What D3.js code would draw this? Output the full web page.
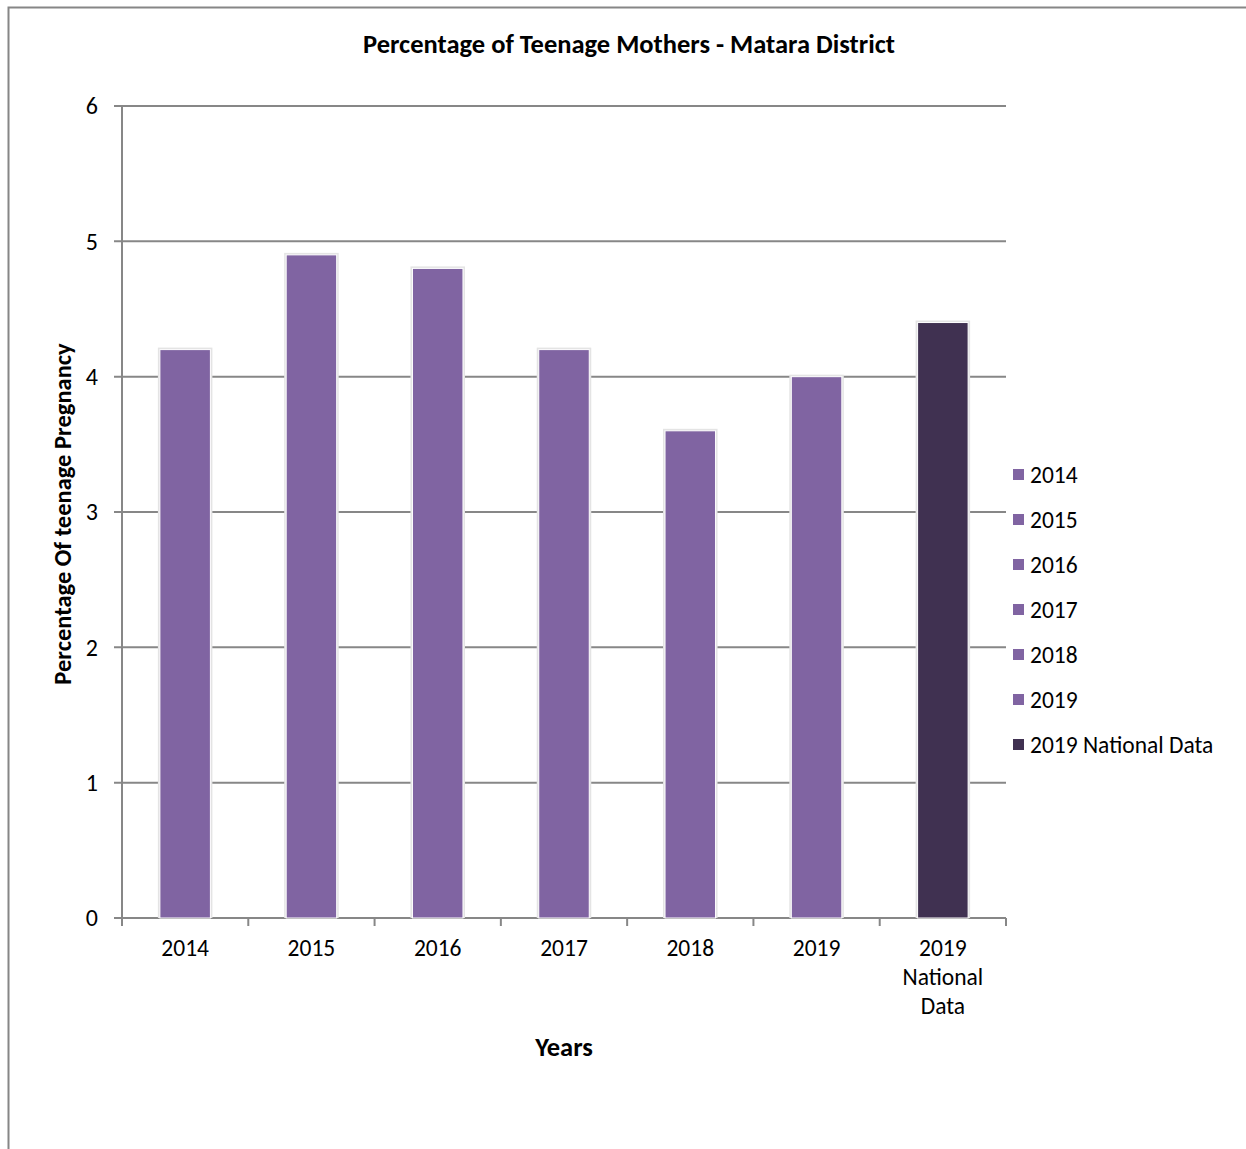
<!DOCTYPE html>
<html>
<head>
<meta charset="utf-8">
<script src="https://cdn.jsdelivr.net/npm/d3@7"></script>
<style>
  body { margin: 0; background: #fff; }
  text { font-family: Carlito, Calibri, Lato, "Open Sans", sans-serif; fill: #000; }
</style>
</head>
<body>
<svg id="chart" width="1246" height="1149"></svg>
<script>
// values
const categories = ["2014", "2015", "2016", "2017", "2018", "2019", "2019 National Data"]
const values = [4.2, 4.9, 4.8, 4.2, 3.6, 4.0, 4.4]
const barColors = ["#8064A2", "#8064A2", "#8064A2", "#8064A2", "#8064A2", "#8064A2", "#403151"]
const yTicks = [0, 1, 2, 3, 4, 5, 6]

const svg = d3.select("#chart")
const plotLeft = 122, plotRight = 1006, plotTop = 106, plotBottom = 918

// outer frame
svg.append("rect")
  .attr("x", 8.5).attr("y", 7.5)
  .attr("width", 1250).attr("height", 1160)
  .attr("fill", "none")
  .attr("stroke", "#868686")
  .attr("stroke-width", 2)

const x = d3.scaleBand().domain(categories).range([plotLeft, plotRight]).paddingInner(0.6).paddingOuter(0.3)
const y = d3.scaleLinear().domain([0, 6]).range([plotBottom, plotTop])

// gridlines
svg.append("g")
  .selectAll("line")
  .data(yTicks)
  .join("line")
  .attr("x1", plotLeft - 8).attr("x2", plotRight)
  .attr("y1", d => y(d)).attr("y2", d => y(d))
  .attr("stroke", "#878787")
  .attr("stroke-width", 2)

// y axis line
svg.append("line")
  .attr("x1", plotLeft).attr("x2", plotLeft)
  .attr("y1", plotTop).attr("y2", plotBottom + 8)
  .attr("stroke", "#878787").attr("stroke-width", 2)

// y labels
svg.append("g")
  .selectAll("text")
  .data(yTicks)
  .join("text")
  .attr("x", 98)
  .attr("y", d => y(d))
  .attr("dy", "0.35em")
  .attr("text-anchor", "end")
  .style("font-size", "24px")
  .text(d => d)

// x ticks at category boundaries
const boundaries = d3.range(categories.length + 1).map(i => plotLeft + i * (plotRight - plotLeft) / categories.length)
svg.append("g")
  .selectAll("line")
  .data(boundaries)
  .join("line")
  .attr("x1", d => d).attr("x2", d => d)
  .attr("y1", plotBottom).attr("y2", plotBottom + 8)
  .attr("stroke", "#878787").attr("stroke-width", 2)

// bar shadows
const bars = svg.append("g")
bars.selectAll("rect.shadow")
  .data(values)
  .join("rect")
  .classed("shadow", true)
  .attr("x", (d, i) => x(categories[i]) - 2)
  .attr("y", d => y(d) - 2)
  .attr("width", x.bandwidth() + 4)
  .attr("height", d => plotBottom - y(d) + 2)
  .attr("fill", "#e4e4e4")

bars.selectAll("rect.bar")
  .data(values)
  .join("rect")
  .classed("bar", true)
  .attr("x", (d, i) => x(categories[i]))
  .attr("y", d => y(d))
  .attr("width", x.bandwidth())
  .attr("height", d => plotBottom - y(d))
  .attr("fill", (d, i) => barColors[i])
  .attr("stroke", "#fff")
  .attr("stroke-width", 1)

// x labels
const xLabels = svg.append("g")
categories.forEach(c => {
  const words = c === "2019 National Data" ? ["2019", "National", "Data"] : [c]
  const t = xLabels.append("text")
    .attr("x", x(c) + x.bandwidth() / 2)
    .attr("y", 956)
    .attr("text-anchor", "middle")
    .style("font-size", "23.5px")
  words.forEach((w, i) => {
    t.append("tspan")
      .attr("x", x(c) + x.bandwidth() / 2)
      .attr("dy", i === 0 ? 0 : 29)
      .text(w)
  })
})

// titles
svg.append("text")
  .attr("x", 629).attr("y", 53)
  .attr("text-anchor", "middle")
  .style("font-size", "26.5px").style("font-weight", 700)
  .text("Percentage of Teenage Mothers - Matara District")

svg.append("text")
  .attr("x", (plotLeft + plotRight) / 2).attr("y", 1056)
  .attr("text-anchor", "middle")
  .style("font-size", "26.5px").style("font-weight", 700)
  .text("Years")

svg.append("text")
  .attr("transform", "translate(71,514) rotate(-90)")
  .attr("text-anchor", "middle")
  .style("font-size", "24.5px").style("font-weight", 700)
  .text("Percentage Of teenage Pregnancy")

// legend
const legend = svg.append("g")
  .selectAll("g")
  .data(categories)
  .join("g")
  .attr("transform", (d, i) => `translate(1013,${475 + i * 45})`)

legend.append("rect")
  .attr("x", 0).attr("y", -6)
  .attr("width", 11).attr("height", 11)
  .attr("fill", (d, i) => barColors[i])

legend.append("text")
  .attr("x", 17).attr("y", 0)
  .attr("dy", "0.35em")
  .style("font-size", "23.5px")
  .text(d => d)
</script>
</body>
</html>
